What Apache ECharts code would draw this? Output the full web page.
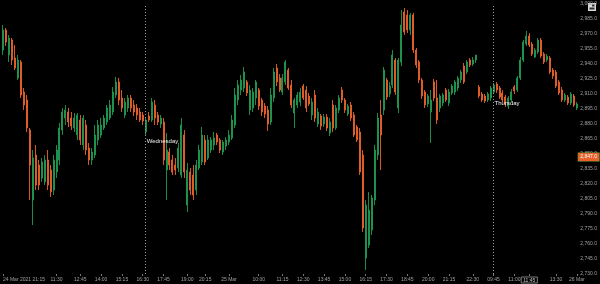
<!DOCTYPE html>
<html>
<head>
<meta charset="utf-8">
<script src="https://cdn.jsdelivr.net/npm/echarts@6/dist/echarts.min.js"></script>
<style>
html,body{margin:0;padding:0;background:#000;}
#c{width:600px;height:284px;}
</style>
</head>
<body>
<div id="c"></div>
<script>
// ---- data ----
const opens = [2954,2974,2949,2964,2946,2926,2942,2912,2904,2874,
2804,2849,2839,2826,2822,2844,2834,2814,2832,2844,
2874,2886,2892,2886,2876,2869,2884,2859,2879,2856,
2844,2849,2864,2869,2876,2882,2886,2892,2909,2922,
2906,2889,2896,2906,2899,2896,2892,2889,2872,2888,
2884,2899,2889,2880,2882,2834,2852,2844,2839,2836,
2829,2869,2799,2832,2829,2814,2836,2842,2864,2846,
2854,2859,2869,2864,2852,2858,2862,2866,2879,2904,
2914,2916,2922,2894,2896,2906,2914,2904,2898,2894,
2882,2906,2936,2926,2912,2922,2934,2919,2891,2899,
2902,2918,2914,2908,2889,2909,2880,2888,2880,2887,
2871,2899,2876,2894,2914,2904,2890,2899,2889,2877,
2872,2849,2746,2759,2774,2804,2849,2889,2894,2924,
2910,2919,2944,2896,2942,2992,2989,2974,2989,2954,
2942,2924,2912,2900,2892,2922,2906,2896,2901,2914,
2901,2911,2912,2916,2924,2938,2932,2944,2940,2944,
2917,2910,2908,2904,2906,2912,2920,2916,2911,2907,
2898,2904,2917,2914,2926,2944,2960,2968,2960,2947,
2952,2964,2950,2944,2946,2934,2932,2922,2914,2904,
2907,2901,2908,2896];
const closes = [2974,2962,2966,2944,2936,2944,2909,2899,2876,2839,
2846,2819,2819,2842,2844,2819,2812,2844,2854,2876,
2892,2894,2882,2878,2886,2889,2864,2886,2854,2844,
2852,2869,2879,2879,2886,2896,2899,2912,2922,2904,
2896,2902,2906,2896,2892,2889,2884,2883,2884,2884,
2902,2886,2882,2886,2844,2854,2839,2832,2834,2856,
2879,2832,2834,2814,2809,2839,2854,2869,2842,2864,
2864,2866,2862,2854,2862,2864,2869,2884,2909,2919,
2924,2932,2911,2914,2912,2922,2898,2892,2890,2880,
2909,2932,2922,2914,2926,2942,2916,2899,2904,2909,
2912,2906,2896,2900,2902,2886,2892,2878,2887,2876,
2882,2876,2896,2906,2904,2894,2898,2886,2869,2864,
2832,2776,2799,2794,2806,2854,2886,2869,2934,2907,
2918,2949,2912,2944,2979,2972,2974,2989,2954,2939,
2924,2908,2899,2908,2904,2906,2884,2908,2909,2904,
2912,2918,2922,2926,2932,2922,2942,2939,2944,2949,
2908,2904,2903,2910,2916,2919,2914,2907,2904,2900,
2906,2912,2913,2926,2944,2962,2968,2959,2950,2954,
2964,2948,2942,2948,2932,2928,2918,2911,2904,2909,
2901,2910,2899,2900];
const highs = [2979,2976,2969,2966,2959,2949,2944,2916,2909,2876,
2854,2859,2844,2846,2849,2854,2839,2849,2859,2881,
2896,2899,2896,2892,2891,2891,2889,2889,2884,2861,
2856,2879,2884,2886,2889,2899,2904,2917,2927,2926,
2914,2906,2909,2909,2904,2900,2896,2892,2886,2892,
2906,2904,2892,2889,2886,2871,2856,2849,2846,2861,
2886,2874,2841,2836,2839,2844,2859,2877,2869,2869,
2867,2872,2871,2866,2864,2867,2874,2889,2916,2924,
2929,2937,2924,2919,2916,2924,2916,2906,2901,2898,
2916,2936,2940,2930,2930,2944,2936,2924,2906,2912,
2916,2920,2918,2911,2906,2914,2896,2890,2890,2890,
2886,2904,2899,2909,2917,2906,2900,2902,2892,2879,
2876,2854,2804,2812,2809,2859,2891,2904,2937,2926,
2922,2954,2946,2946,2994,2996,2994,2991,2991,2956,
2944,2926,2914,2910,2914,2925,2924,2910,2911,2916,
2915,2920,2924,2928,2934,2941,2944,2946,2947,2949,
2919,2912,2910,2912,2918,2921,2922,2918,2914,2909,
2908,2915,2919,2928,2947,2964,2973,2971,2962,2956,
2966,2966,2952,2950,2948,2936,2934,2924,2917,2911,
2909,2912,2910,2902];
const lows = [2949,2958,2942,2939,2934,2924,2906,2894,2872,2804,
2779,2814,2814,2822,2819,2814,2807,2809,2826,2839,
2869,2879,2877,2874,2872,2864,2859,2854,2849,2839,
2839,2846,2859,2866,2874,2879,2884,2889,2906,2899,
2892,2886,2892,2892,2888,2884,2882,2879,2869,2882,
2882,2879,2879,2876,2839,2804,2834,2829,2829,2832,
2826,2826,2792,2809,2804,2809,2834,2839,2839,2844,
2851,2854,2859,2851,2849,2854,2859,2864,2876,2899,
2909,2912,2908,2889,2892,2899,2894,2888,2886,2873,
2879,2902,2918,2912,2909,2919,2914,2896,2876,2896,
2898,2904,2892,2898,2884,2882,2877,2874,2877,2873,
2868,2872,2874,2891,2901,2891,2888,2883,2867,2862,
2829,2772,2734,2756,2769,2799,2844,2834,2889,2904,
2907,2916,2909,2891,2938,2969,2971,2969,2951,2936,
2921,2905,2896,2897,2861,2903,2880,2892,2898,2902,
2898,2909,2909,2913,2921,2920,2930,2937,2938,2941,
2906,2902,2901,2902,2903,2910,2911,2905,2902,2897,
2895,2902,2910,2912,2924,2942,2958,2957,2948,2946,
2950,2946,2940,2942,2930,2925,2916,2909,2902,2902,
2899,2899,2897,2894];

const tickIndex = [0,18,26,33,40,47,54,62,68,76,86,94,101,108,115,122,129,136,143,150,158,165,172,177,186,193];
const tickText  = ['24 Mar 2021 21:15','11:30','12:45','14:00','15:15','16:30','17:45','19:00','20:15','25 Mar',
                   '10:00','11:15','12:30','13:45','15:00','16:15','17:30','18:45','20:00','21:15','22:30',
                   '09:45','11:00','11:45','13:30','26 Mar'];
const boxedTick = 177;

const priceMin = 2730, priceMax = 3000, priceStep = 15;
const dayIndex = [48, 165];
const dayNames = ['Wednesday', 'Thursday'];
const dayLabelPrice = [2863, 2901];
const lastPrice = 2847;

// ---- build ----
const categories = opens.map((_, i) => String(i));
const candles = opens.map((o, i) => [o, closes[i], lows[i], highs[i]]);

const UP = '#1f9a50', DOWN = '#ec6128';

const chart = echarts.init(document.getElementById('c'), null, {renderer: 'canvas'});
chart.setOption({
  backgroundColor: '#000',
  animation: false,
  grid: {left: 0, right: 18, top: 4, bottom: 10},
  xAxis: {
    type: 'category',
    data: categories,
    boundaryGap: true,
    axisLine: {show: false},
    axisTick: {
      show: true, length: 2, alignWithLabel: true,
      interval: (idx) => tickIndex.includes(idx),
      lineStyle: {color: '#777'}
    },
    axisLabel: {
      show: true,
      interval: (idx) => tickIndex.includes(idx),
      fontSize: 5, color: '#a0a0a0', margin: 3,
      alignMinLabel: 'left',
      formatter: (v, idx) => {
        const k = tickIndex.indexOf(Number(v));
        if (k < 0) return '';
        return Number(v) === boxedTick ? '{box|' + tickText[k] + '}' : tickText[k];
      },
      rich: {box: {borderColor: '#9a9a9a', borderWidth: 0.8, padding: [1, 2, 0, 2], fontSize: 5, color: '#c0c0c0'}}
    },
    splitLine: {show: false}
  },
  yAxis: {
    type: 'value',
    position: 'right',
    min: priceMin, max: priceMax, interval: priceStep,
    axisLine: {show: false},
    axisTick: {show: false},
    splitLine: {show: false},
    axisLabel: {
      fontSize: 5, color: '#a0a0a0', margin: 2,
      formatter: (v) => v.toLocaleString('en-US', {minimumFractionDigits: 1, maximumFractionDigits: 1})
    }
  },
  series: [{
    type: 'candlestick',
    data: candles,
    barWidth: 1.5,
    itemStyle: {color: UP, color0: DOWN, borderColor: UP, borderColor0: DOWN, borderWidth: 0.9},
    markLine: {
      silent: true,
      symbol: 'none',
      animation: false,
      data: [
        ...dayIndex.map(i => ({xAxis: String(i), lineStyle: {type: [1, 2], color: '#9a9a9a', width: 1}, label: {show: false}})),
        {yAxis: lastPrice, lineStyle: {color: 'rgba(0,0,0,0)', width: 0},
         label: {show: true, position: 'end', distance: 0, formatter: () => lastPrice.toLocaleString('en-US', {minimumFractionDigits: 1}),
                 backgroundColor: '#e8602a', borderColor: '#7aa040', borderWidth: 0.6, color: '#fff', fontSize: 5, padding: [2, 2, 1, 2]}}
      ]
    },
    markPoint: {
      symbol: 'circle', symbolSize: 0,
      silent: true,
      data: dayIndex.map((i, k) => ({
        coord: [String(i), dayLabelPrice[k]],
        label: {show: true, position: 'right', distance: 1, formatter: dayNames[k], color: '#f0f0f0', fontSize: 6}
      }))
    }
  }],
  graphic: [{
    type: 'group', right: 4, top: 3,
    children: [
      {type: 'rect', shape: {x: 0, y: 0, width: 8, height: 8}, style: {fill: '#d8d8d8'}},
      {type: 'rect', shape: {x: 1.5, y: 4.5, width: 5, height: 2}, style: {fill: '#333'}},
      {type: 'rect', shape: {x: 4, y: 1.5, width: 2.5, height: 2}, style: {fill: '#333'}}
    ]
  }]
});
</script>
</body>
</html>
